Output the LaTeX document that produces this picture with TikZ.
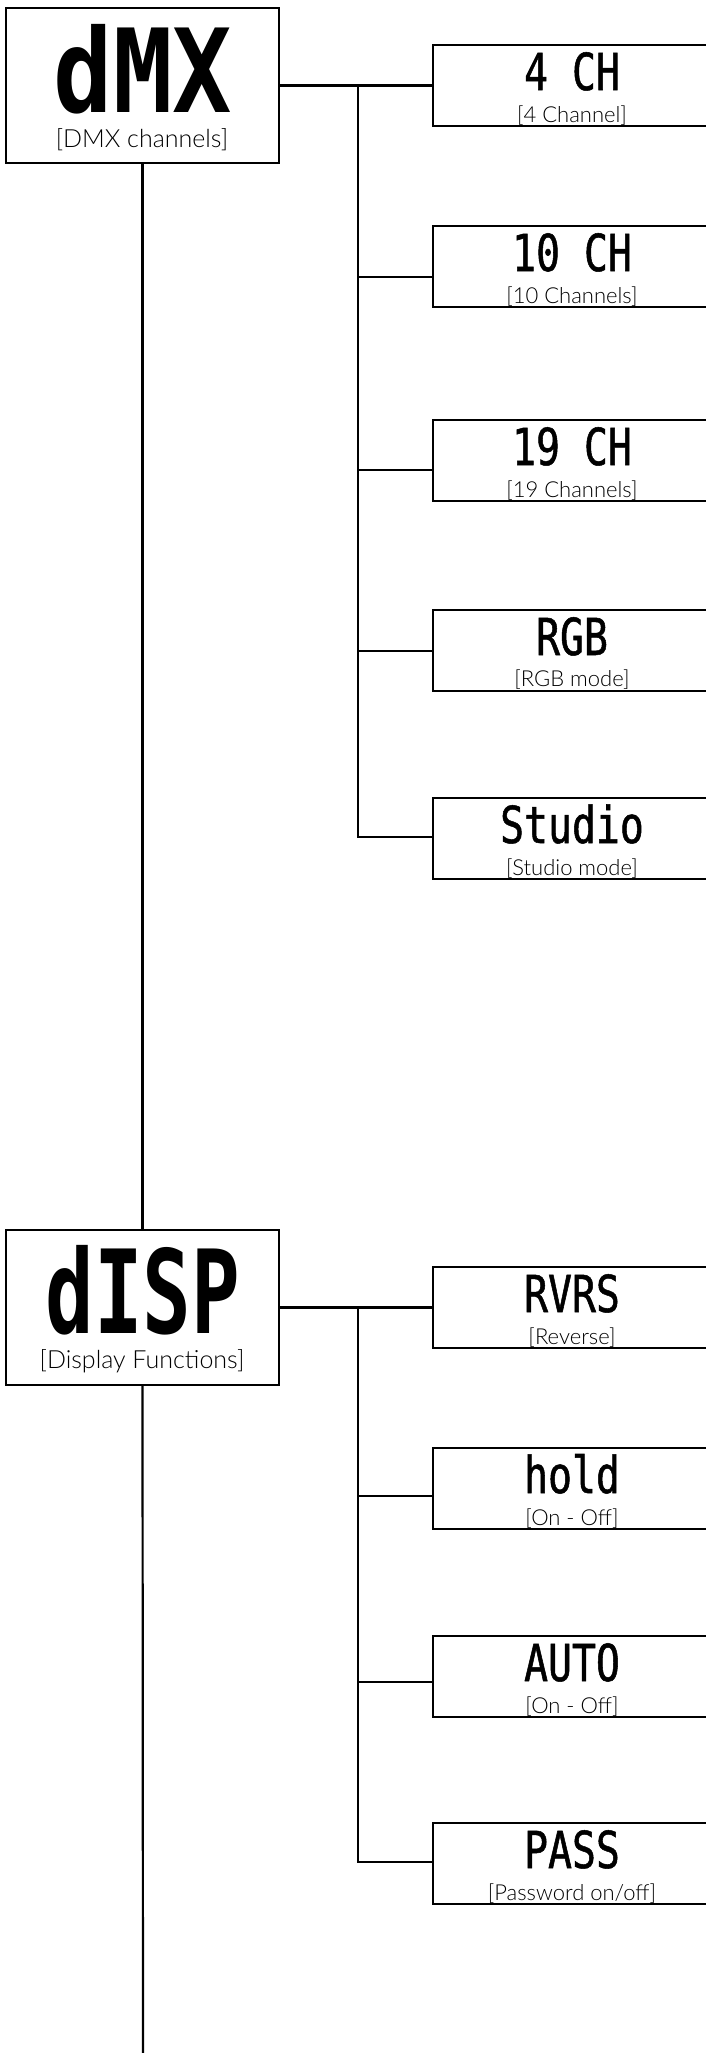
\documentclass[tikz,border=0pt]{standalone}
\usepackage{fontspec}
\usepackage{graphicx}
\newfontfamily\lcdfont{DejaVu Sans Mono}[FakeStretch=0.85]
\newfontfamily\lcdnarrow{DejaVu Sans Mono}[FakeStretch=0.78,FakeBold=1]
\newfontfamily\subfont{Lato Light}
\begin{document}
\begin{tikzpicture}[x=1pt,y=-1pt,
  wire/.style={line width=2.2pt},
  mainbox/.style={draw, line width=2.2pt, minimum width=273pt, minimum height=155pt, inner sep=0pt},
  subbox/.style={draw, line width=2.2pt, minimum width=279pt, minimum height=81pt, inner sep=0pt},
  lcdbig/.style={font=\lcdfont\bfseries\fontsize{116}{116}\selectfont, anchor=base, inner sep=0pt, text depth=0pt},
  lcd/.style={font=\lcdnarrow\fontsize{51}{51}\selectfont, anchor=base, inner sep=0pt, text depth=0pt},
  subbig/.style={font=\subfont\fontsize{25}{25}\selectfont, anchor=base, inner sep=0pt, text=black},
  subsmall/.style={font=\subfont\fontsize{22}{22}\selectfont, anchor=base, inner sep=0pt, text=black}]
\useasboundingbox (0,0) rectangle (706,2053);
\fill[white] (0,0) rectangle (706,2053);

% main boxes
\node[mainbox] (dmx) at (142.5,85.5) {};
\node[lcdbig] (dmxt) at (143,112) {dMX};
\node[subbig] (dmxs) at (142,147) {[DMX channels]};

\node[mainbox] (disp) at (142.5,1307.5) {};
\node[lcdbig] (dispt) at (143,1333) {\scalebox{0.82}[1]{dISP}};
\node[subbig] (disps) at (142,1368) {[Display Functions]};

% group 1 children
\node[subbox] (ch4) at (572.5,85.5) {};
\node[lcd] (ch4t) at (572,90) {4 CH};
\node[subsmall] (ch4s) at (572,122) {[4 Channel]};

\node[subbox] (ch10) at (572.5,266.5) {};
\node[lcd] (ch10t) at (572,271) {10 CH};
\node[subsmall] (ch10s) at (572,303) {[10 Channels]};

\node[subbox] (ch19) at (572.5,460.5) {};
\node[lcd] (ch19t) at (572,465) {19 CH};
\node[subsmall] (ch19s) at (572,497) {[19 Channels]};

\node[subbox] (rgb) at (572.5,650.5) {};
\node[lcd] (rgbt) at (572,655) {RGB};
\node[subsmall] (rgbs) at (572,686) {[RGB mode]};

\node[subbox] (studio) at (572.5,838.5) {};
\node[lcd] (studiot) at (572,843) {Studio};
\node[subsmall] (studios) at (572,875) {[Studio mode]};

% group 2 children
\node[subbox] (rvrs) at (572.5,1307.5) {};
\node[lcd] (rvrst) at (572,1312) {RVRS};
\node[subsmall] (rvrss) at (572,1344) {[Reverse]};

\node[subbox] (hold) at (572.5,1488.5) {};
\node[lcd] (holdt) at (572,1493) {hold};
\node[subsmall] (holds) at (572,1525) {[On - Off]};

\node[subbox] (auto) at (572.5,1676.5) {};
\node[lcd] (autot) at (572,1681) {AUTO};
\node[subsmall] (autos) at (572,1713) {[On - Off]};

\node[subbox] (pass) at (572.5,1863.5) {};
\node[lcd] (passt) at (572,1868) {PASS};
\node[subsmall] (passs) at (572,1900) {[Password on/off]};

% main spine
\coordinate (bot) at (143,2053);
\draw[wire] (dmx.south) -- (disp.north);
\draw[wire] (disp.south) -- (bot);

% group 1 connectors
\coordinate (j1) at (358,85.5);
\draw[wire] (dmx.east) -- (ch4.west);
\path ([yshift=-10.5pt]ch10.west) coordinate (p10)
      ([yshift=-9.5pt]ch19.west) coordinate (p19)
      ([yshift=-0.5pt]rgb.west) coordinate (prgb)
      ([yshift=1.5pt]studio.west) coordinate (pst);
\draw[wire] (j1) |- (pst);
\draw[wire] (p10 -| j1) -- (p10);
\draw[wire] (p19 -| j1) -- (p19);
\draw[wire] (prgb -| j1) -- (prgb);

% group 2 connectors
\coordinate (j2) at (358,1307.5);
\draw[wire] (disp.east) -- (rvrs.west);
\path ([yshift=-7.5pt]hold.west) coordinate (phold)
      ([yshift=-5.5pt]auto.west) coordinate (pauto)
      ([yshift=1.5pt]pass.west) coordinate (ppass);
\draw[wire] (j2) |- (ppass);
\draw[wire] (phold -| j2) -- (phold);
\draw[wire] (pauto -| j2) -- (pauto);
\end{tikzpicture}
\end{document}
